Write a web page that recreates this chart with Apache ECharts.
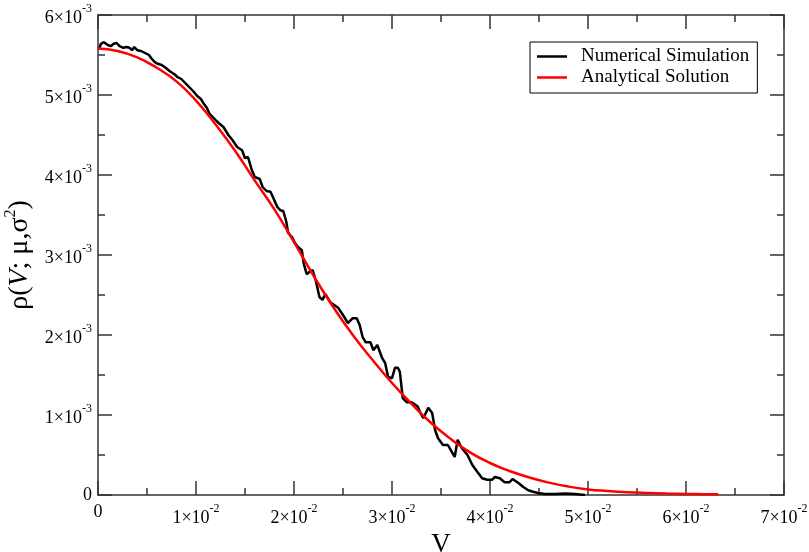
<!DOCTYPE html>
<html>
<head>
<meta charset="utf-8">
<script src="https://cdn.jsdelivr.net/npm/echarts@6/dist/echarts.min.js"></script>
<style>
  html, body { margin: 0; padding: 0; background: #fff; }
  #chart { width: 809px; height: 552px; }
</style>
</head>
<body>
<div id="chart"></div>
<script>
// numerical simulation
const simV = [
  0.0001, 0.0003, 0.0006, 0.0010, 0.0013, 0.0016, 0.0019, 0.0022, 0.0026, 0.0029,
  0.0032, 0.0035, 0.0037, 0.0040, 0.0044, 0.0048, 0.0052, 0.0055, 0.0058, 0.0061,
  0.0065, 0.0069, 0.0073, 0.0078, 0.0081, 0.0085, 0.0089, 0.0093, 0.0097, 0.0101,
  0.0105, 0.0108, 0.0111, 0.0114, 0.0117, 0.0121, 0.0124, 0.0128, 0.0133, 0.0137,
  0.0142, 0.0147, 0.0150, 0.0153, 0.0157, 0.0160, 0.0165, 0.0168, 0.0172, 0.0176,
  0.0179, 0.0183, 0.0186, 0.0189, 0.0192, 0.0194, 0.0198, 0.0201, 0.0204, 0.0208,
  0.0210, 0.0213, 0.0216, 0.0219, 0.0222, 0.0226, 0.0229, 0.0232, 0.0237, 0.0241,
  0.0245, 0.0250, 0.0255, 0.0260, 0.0264, 0.0267, 0.0270, 0.0273, 0.0278, 0.0281,
  0.0285, 0.0290, 0.0293, 0.0296, 0.0300, 0.0303, 0.0306, 0.0308, 0.0311, 0.0315,
  0.0320, 0.0326, 0.0329, 0.0332, 0.0337, 0.0341, 0.0344, 0.0347, 0.0352, 0.0357,
  0.0361, 0.0364, 0.0367, 0.0371, 0.0377, 0.0382, 0.0387, 0.0392, 0.0397, 0.0402,
  0.0405, 0.0410, 0.0415, 0.0420, 0.0423, 0.0429, 0.0434, 0.0439, 0.0444, 0.0449,
  0.0456, 0.0466, 0.0477, 0.0487, 0.0497
];
const simRho = [
  5.575e-3, 5.64e-3, 5.66e-3, 5.625e-3, 5.61e-3, 5.64e-3, 5.65e-3, 5.61e-3, 5.59e-3, 5.60e-3,
  5.59e-3, 5.56e-3, 5.60e-3, 5.56e-3, 5.55e-3, 5.525e-3, 5.50e-3, 5.45e-3, 5.41e-3, 5.39e-3,
  5.375e-3, 5.34e-3, 5.30e-3, 5.26e-3, 5.225e-3, 5.20e-3, 5.15e-3, 5.10e-3, 5.05e-3, 4.99e-3,
  4.95e-3, 4.89e-3, 4.84e-3, 4.76e-3, 4.725e-3, 4.675e-3, 4.64e-3, 4.60e-3, 4.50e-3, 4.44e-3,
  4.35e-3, 4.31e-3, 4.21e-3, 4.225e-3, 4.06e-3, 3.975e-3, 3.95e-3, 3.85e-3, 3.80e-3, 3.79e-3,
  3.71e-3, 3.60e-3, 3.56e-3, 3.55e-3, 3.425e-3, 3.275e-3, 3.225e-3, 3.15e-3, 3.10e-3, 3.06e-3,
  2.89e-3, 2.76e-3, 2.79e-3, 2.81e-3, 2.69e-3, 2.475e-3, 2.44e-3, 2.51e-3, 2.41e-3, 2.375e-3,
  2.34e-3, 2.25e-3, 2.15e-3, 2.21e-3, 2.21e-3, 2.125e-3, 1.975e-3, 1.91e-3, 1.91e-3, 1.81e-3,
  1.875e-3, 1.71e-3, 1.65e-3, 1.475e-3, 1.46e-3, 1.59e-3, 1.59e-3, 1.54e-3, 1.21e-3, 1.16e-3,
  1.16e-3, 1.11e-3, 1.025e-3, 0.96e-3, 1.09e-3, 1.025e-3, 0.81e-3, 0.71e-3, 0.625e-3, 0.625e-3,
  0.54e-3, 0.475e-3, 0.69e-3, 0.59e-3, 0.50e-3, 0.375e-3, 0.29e-3, 0.21e-3, 0.19e-3, 0.19e-3,
  0.225e-3, 0.21e-3, 0.16e-3, 0.16e-3, 0.20e-3, 0.15e-3, 0.10e-3, 0.06e-3, 0.04e-3, 0.025e-3,
  0.0125e-3, 0.0125e-3, 0.02e-3, 0.0125e-3, 0
];

// analytical solution
const anaV = [
  0, 0.002, 0.004, 0.006, 0.008, 0.010, 0.012, 0.014, 0.016, 0.018,
  0.020, 0.022, 0.024, 0.026, 0.028, 0.030, 0.032, 0.034, 0.036, 0.038,
  0.040, 0.042, 0.044, 0.046, 0.048, 0.050, 0.052, 0.054, 0.056, 0.058,
  0.060, 0.062, 0.0633
];
const anaRho = [
  5.58e-3, 5.55e-3, 5.47e-3, 5.34e-3, 5.17e-3, 4.93e-3, 4.63e-3, 4.30e-3, 3.93e-3, 3.57e-3,
  3.16e-3, 2.74e-3, 2.35e-3, 2.00e-3, 1.69e-3, 1.40e-3, 1.14e-3, 0.90e-3, 0.70e-3, 0.53e-3,
  0.40e-3, 0.30e-3, 0.22e-3, 0.155e-3, 0.105e-3, 0.07e-3, 0.05e-3, 0.035e-3, 0.025e-3, 0.018e-3,
  0.013e-3, 0.01e-3, 0.008e-3
];

const seriesNames = ['Numerical Simulation', 'Analytical Solution'];

// axes: 0..7e-2 step 1e-2, 0..6e-3 step 1e-3
const xStep = 0.01, xExp = '-2', xMax = 0.07;
const yStep = 0.001, yExp = '-3', yMax = 0.006;

const FONT = 'Liberation Serif';
const AXIS_COLOR = '#333';

function sciLabel(v, step, exp) {
  const n = Math.round(v / step);
  if (n === 0) return '0';
  return '{m|' + n + '×10}{e|' + exp + '}';
}

const labelRich = {
  m: { fontFamily: FONT, fontSize: 18, color: '#000', padding: [6, 0, 0, 0] },
  e: { fontFamily: FONT, fontSize: 12, color: '#000', verticalAlign: 'top' }
};

function baseAxis(min, max, step) {
  return {
    type: 'value',
    min: min,
    max: max,
    interval: step,
    splitLine: { show: false },
    axisLine: { show: true, onZero: false, lineStyle: { color: AXIS_COLOR, width: 1.5 } },
    axisTick: { show: true, inside: true, length: 14, lineStyle: { color: AXIS_COLOR, width: 1.5 } },
    minorTick: { show: true, splitNumber: 2, length: 7, lineStyle: { color: AXIS_COLOR, width: 1.5 } }
  };
}

const chart = echarts.init(document.getElementById('chart'));

chart.setOption({
  animation: false,
  backgroundColor: '#fff',
  grid: { left: 98, right: 25, top: 15, bottom: 57, outerBoundsMode: 'none', containLabel: false },
  legend: {
    orient: 'vertical',
    left: 530,
    top: 42,
    data: seriesNames,
    icon: 'rect',
    itemWidth: 30,
    itemHeight: 2.5,
    itemGap: 0,
    padding: [4, 8, 5, 7],
    borderColor: '#000',
    borderWidth: 1,
    backgroundColor: '#fff',
    textStyle: { fontFamily: FONT, fontSize: 19, color: '#000', lineHeight: 21, padding: [0, 0, 0, 9] }
  },
  xAxis: [
    Object.assign(baseAxis(0, xMax, xStep), {
      position: 'bottom',
      name: 'V',
      nameLocation: 'middle',
      nameGap: 29,
      nameTextStyle: { fontFamily: FONT, fontSize: 27, color: '#000' },
      axisLabel: {
        margin: 8,
        fontFamily: FONT,
        fontSize: 18,
        color: '#000',
        formatter: v => sciLabel(v, xStep, xExp),
        rich: labelRich
      }
    }),
    Object.assign(baseAxis(0, xMax, xStep), {
      position: 'top',
      axisLabel: { show: false }
    })
  ],
  yAxis: [
    Object.assign(baseAxis(0, yMax, yStep), {
      position: 'left',
      name: '{r|ρ(}{i|V}{r|; μ,σ}{s|2}{r|)}',
      nameLocation: 'middle',
      nameGap: 62,
      nameTextStyle: {
        fontFamily: FONT,
        fontSize: 28,
        color: '#000',
        rich: {
          r: { fontFamily: FONT, fontSize: 28, color: '#000', padding: [3, 0, 0, 0] },
          i: { fontFamily: FONT, fontSize: 28, fontStyle: 'italic', color: '#000', padding: [3, 0, 0, 0] },
          s: { fontFamily: FONT, fontSize: 16, color: '#000', verticalAlign: 'top' }
        }
      },
      axisLabel: {
        margin: 6,
        fontFamily: FONT,
        fontSize: 18,
        color: '#000',
        formatter: v => sciLabel(v, yStep, yExp),
        rich: labelRich
      }
    }),
    Object.assign(baseAxis(0, yMax, yStep), {
      position: 'right',
      axisLabel: { show: false }
    })
  ],
  series: [
    {
      name: seriesNames[0],
      type: 'line',
      symbol: 'none',
      data: simV.map((v, i) => [v, simRho[i]]),
      lineStyle: { color: '#000', width: 2.5 },
      itemStyle: { color: '#000' }
    },
    {
      name: seriesNames[1],
      type: 'line',
      symbol: 'none',
      smooth: true,
      data: anaV.map((v, i) => [v, anaRho[i]]),
      lineStyle: { color: '#ff0000', width: 2.5 },
      itemStyle: { color: '#ff0000' }
    }
  ]
});

window.addEventListener('resize', () => chart.resize());
</script>
</body>
</html>
